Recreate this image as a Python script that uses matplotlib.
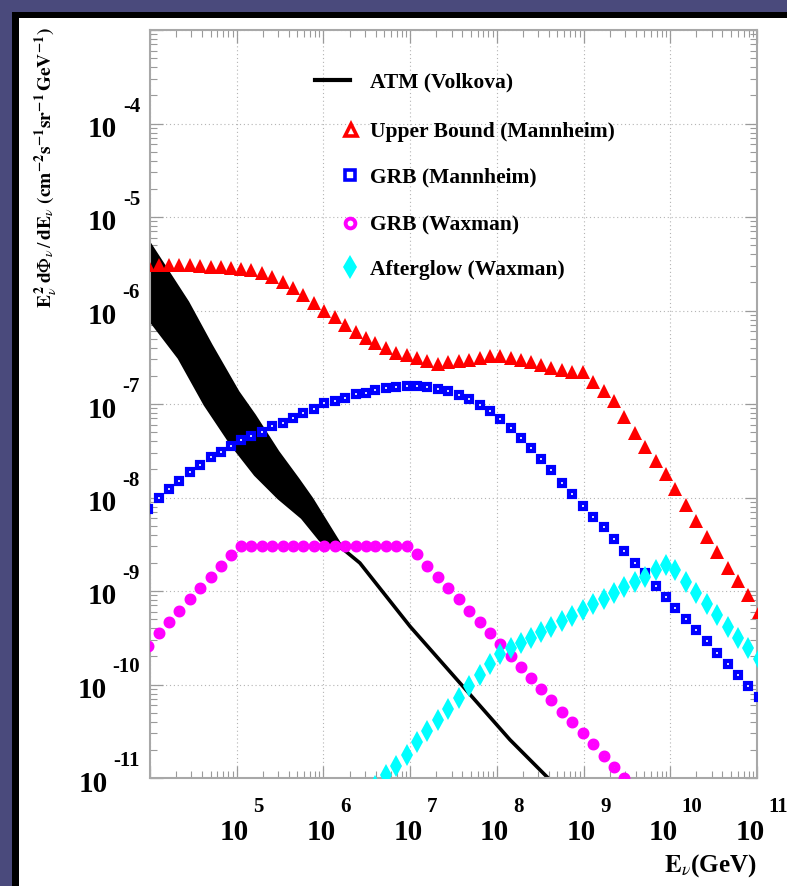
import matplotlib
matplotlib.use("Agg")
import matplotlib.pyplot as plt
import matplotlib.transforms as mtransforms
from matplotlib.lines import Line2D
from matplotlib.patches import Rectangle

plt.rcParams['mathtext.fontset'] = 'stix'
SERIF = ['Liberation Serif', 'DejaVu Serif']

# ---------------- data (log10 values) ----------------
energy_exp = [3.98, 4.10, 4.22, 4.34, 4.46, 4.58, 4.70, 4.82, 4.93, 5.05,
              5.17, 5.29, 5.41, 5.53, 5.65, 5.77, 5.89, 6.01, 6.13, 6.25,
              6.37, 6.49, 6.60, 6.72, 6.84, 6.96, 7.08, 7.20, 7.32, 7.44,
              7.56, 7.68, 7.80, 7.92, 8.04, 8.16, 8.28, 8.39, 8.51, 8.63,
              8.75, 8.87, 8.99, 9.11, 9.23, 9.35, 9.47, 9.59, 9.71, 9.83,
              9.95, 10.06, 10.18, 10.30, 10.42, 10.54, 10.66, 10.78, 10.90, 11.02]

upper_bound_exp = [-5.51, -5.51, -5.51, -5.51, -5.51, -5.52, -5.53, -5.54, -5.55, -5.56,
                   -5.57, -5.60, -5.64, -5.70, -5.76, -5.83, -5.92, -6.00, -6.07, -6.16,
                   -6.23, -6.29, -6.35, -6.40, -6.45, -6.48, -6.51, -6.54, -6.57, -6.55,
                   -6.54, -6.53, -6.51, -6.49, -6.49, -6.51, -6.53, -6.55, -6.58, -6.62,
                   -6.64, -6.66, -6.66, -6.76, -6.86, -6.97, -7.14, -7.31, -7.46, -7.61,
                   -7.75, -7.91, -8.08, -8.25, -8.42, -8.58, -8.75, -8.89, -9.04, -9.22]

grb_mannheim_exp = [-8.12, -8.01, -7.91, -7.82, -7.73, -7.65, -7.57, -7.51, -7.45, -7.39,
                    -7.34, -7.30, -7.24, -7.20, -7.15, -7.10, -7.05, -6.99, -6.97, -6.94,
                    -6.89, -6.88, -6.85, -6.83, -6.82, -6.81, -6.81, -6.82, -6.84, -6.86,
                    -6.90, -6.95, -7.01, -7.08, -7.16, -7.26, -7.36, -7.47, -7.59, -7.71,
                    -7.84, -7.96, -8.09, -8.21, -8.32, -8.44, -8.57, -8.70, -8.81, -8.95,
                    -9.06, -9.18, -9.30, -9.42, -9.54, -9.66, -9.78, -9.90, -10.02, -10.13]

grb_waxman_exp = [-9.59, -9.45, -9.33, -9.21, -9.09, -8.97, -8.85, -8.73, -8.62, -8.52,
                  -8.52, -8.52, -8.52, -8.52, -8.52, -8.52, -8.52, -8.52, -8.52, -8.52,
                  -8.52, -8.52, -8.52, -8.52, -8.52, -8.52, -8.60, -8.73, -8.85, -8.97,
                  -9.09, -9.21, -9.33, -9.45, -9.57, -9.69, -9.81, -9.93, -10.05, -10.17,
                  -10.29, -10.40, -10.52, -10.64, -10.76, -10.88, -11.00]

afterglow_exp = [-11.09, -10.97, -10.87, -10.75, -10.62, -10.50, -10.38, -10.26, -10.14, -10.02,
                 -9.90, -9.78, -9.67, -9.61, -9.56, -9.50, -9.44, -9.39, -9.32, -9.27,
                 -9.20, -9.14, -9.09, -9.02, -8.96, -8.90, -8.85, -8.78, -8.72, -8.78,
                 -8.90, -9.02, -9.14, -9.26, -9.38, -9.50, -9.61, -9.73]

atm_upper_E = [4.00, 4.44, 4.71, 5.02, 5.21, 5.48, 5.71, 5.87, 6.19, 6.25]
atm_upper_F = [-5.28, -5.91, -6.37, -6.87, -7.12, -7.51, -7.80, -8.01, -8.49, -8.57]
atm_lower_E = [4.00, 4.33, 4.63, 4.94, 5.21, 5.48, 5.75, 5.96, 6.25]
atm_lower_F = [-6.11, -6.51, -7.01, -7.44, -7.76, -8.01, -8.22, -8.46, -8.57]
atm_tail_E = [6.25, 6.42, 7.00, 7.58, 8.15, 8.58, 8.75]
atm_tail_F = [-8.57, -8.70, -9.38, -9.99, -10.59, -10.99, -11.17]

x_tick_exp = ['5', '6', '7', '8', '9', '10', '11']
y_tick_exp = ['-4', '-5', '-6', '-7', '-8', '-9', '-10', '-11']

legend_labels = ['ATM (Volkova)', 'Upper Bound (Mannheim)', 'GRB (Mannheim)',
                 'GRB (Waxman)', 'Afterglow (Waxman)']


def p10(vals):
    return [10.0 ** v for v in vals]


# ---------------- figure ----------------
W, H = 787, 886
fig = plt.figure(figsize=(W / 100, H / 100), dpi=100, facecolor='white')

bg = '#4a4a7c'
fig.add_artist(Rectangle((0, 1 - 12 / H), 1, 12 / H, transform=fig.transFigure,
                         color=bg, lw=0, zorder=0))
fig.add_artist(Rectangle((0, 0), 12 / W, 1, transform=fig.transFigure,
                         color=bg, lw=0, zorder=0))
fig.add_artist(Rectangle((12 / W, 1 - 18 / H), 1, 6 / H, transform=fig.transFigure,
                         color='black', lw=0, zorder=0))
fig.add_artist(Rectangle((12 / W, 0), 7 / W, 1 - 12 / H, transform=fig.transFigure,
                         color='black', lw=0, zorder=0))

ax = fig.add_axes([150 / W, 108 / H, 607 / W, 748 / H])
ax.set_xscale('log')
ax.set_yscale('log')
ax.set_xlim(1e4, 1e11)
ax.set_ylim(1e-11, 1e-3)

ax.grid(True, which='major', ls=(0, (1, 2.5)), color='#b4b4b4', lw=0.8)
ax.tick_params(which='both', direction='in', top=True, right=True,
               color='#9a9a9a', labelleft=False, labelbottom=False)
ax.tick_params(which='major', length=9, width=0.9)
ax.tick_params(which='minor', length=5, width=0.8)
for sp in ax.spines.values():
    sp.set_color('#a8a8a8')
    sp.set_linewidth(1.5)

# ATM band and tail
band_x = p10(atm_upper_E) + p10(atm_lower_E[::-1])
band_y = p10(atm_upper_F) + p10(atm_lower_F[::-1])
ax.fill(band_x, band_y, color='black', lw=1.5, zorder=2)
ax.plot(p10(atm_tail_E), p10(atm_tail_F), color='black', lw=2.6, zorder=2)

E = p10(energy_exp)
ax.plot(E, p10(upper_bound_exp), ls='none', marker='^', ms=9.5, color='red',
        mew=0, zorder=3)
ax.plot(E, p10(grb_mannheim_exp), ls='none', marker='s', ms=5.0, mfc='white',
        mec='blue', mew=3.0, zorder=3)
ax.plot(E[:len(grb_waxman_exp)], p10(grb_waxman_exp), ls='none', marker='o', ms=4.6,
        mfc='white', mec='magenta', mew=4.0, zorder=3)
ax.plot(E[len(E) - len(afterglow_exp):], p10(afterglow_exp), ls='none', marker='d',
        ms=11, color='cyan', mew=0, zorder=3)

# ---------------- tick labels (ROOT style) ----------------
renderer = fig.canvas.get_renderer()
tick_fs = 21
exp_fs = 15

ytrans = ax.get_yaxis_transform()
for e in y_tick_exp:
    val = 10.0 ** int(e)
    t_exp = ax.text(0, val, e, transform=mtransforms.offset_copy(
        ytrans, fig=fig, x=-10, y=17, units='dots'),
        ha='right', va='center', fontsize=exp_fs, fontweight='bold', family=SERIF)
    w = t_exp.get_window_extent(renderer).width
    ax.text(0, val, '10', transform=mtransforms.offset_copy(
        ytrans, fig=fig, x=-10 - w - 6, y=-6, units='dots'),
        ha='right', va='center', fontsize=tick_fs, fontweight='bold', family=SERIF)

xtrans = ax.get_xaxis_transform()
for e in x_tick_exp:
    val = 10.0 ** int(e)
    tb = ax.text(val, 0, '10', fontsize=tick_fs, fontweight='bold', family=SERIF)
    te = ax.text(val, 0, e, fontsize=exp_fs, fontweight='bold', family=SERIF)
    wb = tb.get_window_extent(renderer).width
    we = te.get_window_extent(renderer).width
    total = wb + 4 + we
    left = 5 - total / 2
    tb.set_transform(mtransforms.offset_copy(xtrans, fig=fig, x=left, y=-55, units='dots'))
    tb.set_ha('left'); tb.set_va('center')
    te.set_transform(mtransforms.offset_copy(xtrans, fig=fig, x=left + wb + 4, y=-29,
                                             units='dots'))
    te.set_ha('left'); te.set_va('center')

# axis titles
fig.text(757 / W, 1 - 872 / H, r'$\mathbf{E}_{\nu}$(GeV)', ha='right', va='baseline',
         fontsize=18, fontweight='bold', family=SERIF)
fig.text(46 / W, 1 - 168 / H,
         r'$\mathbf{E}_{\nu}^{\,\mathbf{2}}\,\mathbf{d}\Phi_{\nu}\,/\,\mathbf{dE}_{\nu}\ '
         r'\mathbf{(cm}^{\mathbf{-2}}\mathbf{s}^{\mathbf{-1}}\mathbf{sr}^{\mathbf{-1}}'
         r'\,\mathbf{GeV}^{\mathbf{-1}}\mathbf{)}$',
         rotation=90, ha='center', va='center', fontsize=14, family=SERIF)

# ---------------- legend (manual) ----------------
leg_y = [80, 130, 175, 223, 267]
def fx(px):
    return px / W
def fy(py):
    return 1 - py / H

fig.add_artist(Line2D([fx(315), fx(350)], [fy(leg_y[0])] * 2, color='black', lw=3,
                      transform=fig.transFigure))
fig.add_artist(Line2D([fx(351)], [fy(leg_y[1])], marker='^', ms=9, mfc='white',
                      mec='red', mew=2.6, transform=fig.transFigure))
fig.add_artist(Line2D([fx(350)], [fy(leg_y[2])], marker='s', ms=6.5, mfc='white',
                      mec='blue', mew=2.6, transform=fig.transFigure))
fig.add_artist(Line2D([fx(350)], [fy(leg_y[3])], marker='o', ms=7, mfc='white',
                      mec='magenta', mew=2.8, transform=fig.transFigure))
fig.add_artist(Line2D([fx(350)], [fy(leg_y[4])], marker='d', ms=12, color='cyan',
                      mew=0, transform=fig.transFigure))
for lab, yy in zip(legend_labels, leg_y):
    fig.text(fx(370), fy(yy), lab, ha='left', va='center_baseline', fontsize=15.5,
             fontweight='bold', family=SERIF)

fig.savefig('out.png', dpi=100, facecolor='white')
